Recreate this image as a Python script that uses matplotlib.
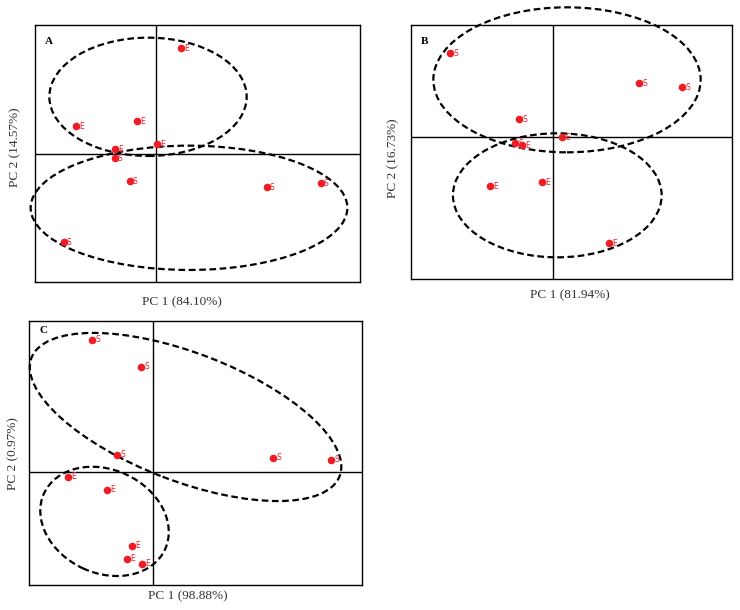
import matplotlib
matplotlib.use("Agg")
from matplotlib import pyplot as plt
from matplotlib.patches import Ellipse

# panel A scores
a_x = [0.25, -0.80, -0.19, -0.41, 0.01, -0.41, -0.26, 1.11, 1.65, -0.92]
a_y = [1.06, 0.28, 0.33, 0.05, 0.10, -0.04, -0.27, -0.33, -0.29, -0.88]
a_lab = ["E", "E", "E", "E", "E", "S", "S", "S", "S", "S"]

# panel B scores
b_x = [-1.03, 0.86, 1.29, -0.34, 0.09, -0.38, -0.31, -0.63, -0.11, 0.56]
b_y = [0.84, 0.54, 0.50, 0.18, 0.00, -0.06, -0.08, -0.49, -0.45, -1.06]
b_lab = ["S", "S", "S", "S", "E", "S", "E", "E", "E", "E"]

# panel C scores
c_x = [-0.61, -0.12, -0.36, 1.20, 1.78, -0.85, -0.46, -0.21, -0.26, -0.11]
c_y = [1.32, 1.05, 0.17, 0.14, 0.12, -0.05, -0.18, -0.74, -0.87, -0.92]
c_lab = ["S", "S", "S", "S", "S", "E", "E", "E", "E", "E"]

RED = "#ee1d25"


def panel(ax, xs, ys, labels, letter, letter_y, xlim, ylim, ellipses):
    ax.set_xlim(*xlim)
    ax.set_ylim(*ylim)
    ax.axhline(0, color="black", lw=1.0)
    ax.axvline(0, color="black", lw=1.0)
    for (cx, cy, w, h, ang) in ellipses:
        e = Ellipse((cx, cy), w, h, angle=ang, fill=False, edgecolor="black",
                    lw=1.6, linestyle=(0, (3.0, 1.6)), clip_on=False, zorder=3)
        ax.add_patch(e)
    ax.scatter(xs, ys, s=20, color=RED, zorder=5, clip_on=False)
    for x, y, t in zip(xs, ys, labels):
        ax.annotate(t, (x, y), xytext=(2, 0), textcoords="offset points",
                    ha="left", va="center", fontsize=5.5, color=RED,
                    family="DejaVu Sans", zorder=6)
    ax.text(0.03, letter_y, letter, transform=ax.transAxes, fontsize=8,
            fontweight="bold", family="Liberation Serif", va="center")
    ax.set_xticks([])
    ax.set_yticks([])
    for s in ax.spines.values():
        s.set_linewidth(1.0)


def main():
    fig = plt.figure(figsize=(7.4, 6.1), dpi=100)

    ax_a = fig.add_axes([0.0473, 0.5377, 0.4392, 0.4213])
    ax_b = fig.add_axes([0.555, 0.5421, 0.4346, 0.4169])
    ax_c = fig.add_axes([0.0396, 0.041, 0.4492, 0.4333])

    panel(ax_a, a_x, a_y, a_lab, "A", 0.935, (-1.21, 2.04), (-1.28, 1.29),
          [(-0.08, 0.572, 1.973, 1.183, 0), (0.33, -0.538, 3.167, 1.243, 0)])
    panel(ax_b, b_x, b_y, b_lab, "B", 0.935, (-1.426, 1.79), (-1.42, 1.123),
          [(0.137, 0.575, 2.673, 1.45, 0), (0.04, -0.58, 2.087, 1.24, 0)])
    panel(ax_c, c_x, c_y, c_lab, "C", 0.962, (-1.24, 2.083), (-1.133, 1.51),
          [(0.322, 0.547, 3.30, 1.28, -21), (-0.488, -0.497, 1.333, 1.033, -25)])

    lab = dict(fontsize=9.5, family="Liberation Serif", color="#333333",
               ha="center", va="center")
    fig.text(0.2455, 0.5038, "PC 1 (84.10%)", **lab)
    fig.text(0.770, 0.5164, "PC 1 (81.94%)", **lab)
    fig.text(0.254, 0.0230, "PC 1 (98.88%)", **lab)
    fig.text(0.0203, 0.758, "PC 2 (14.57%)", rotation=90, **lab)
    fig.text(0.531, 0.741, "PC 2 (16.73%)", rotation=90, **lab)
    fig.text(0.0176, 0.2557, "PC 2 (0.97%)", rotation=90, **lab)

    fig.savefig("out.png", dpi=100)


if __name__ == "__main__":
    main()
